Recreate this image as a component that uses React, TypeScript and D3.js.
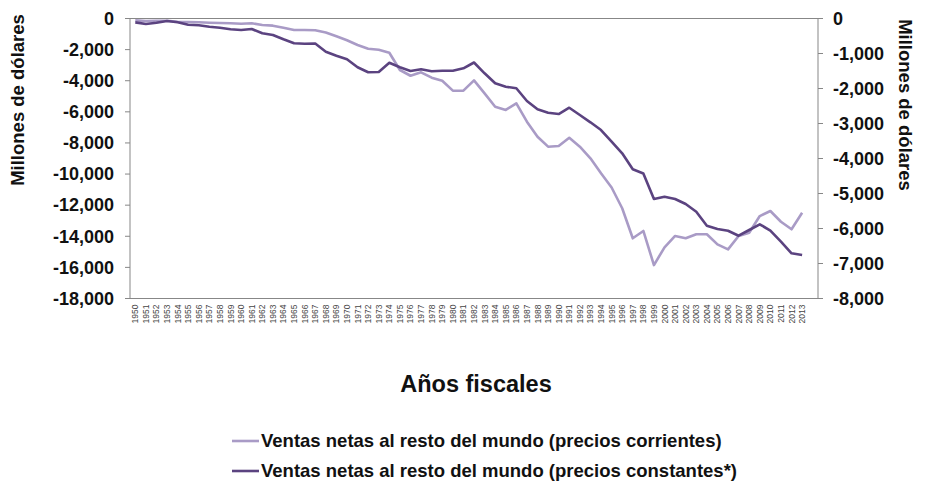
import React from "react";
import * as d3 from "d3";

const years: string[] = [];
for (let y = 1950; y <= 2013; y++) years.push(String(y));
const categories = [...years, ""];

// Ventas netas (precios corrientes) – eje izquierdo
const corrientes = [
  -120, -160, -140, -140, -205, -225, -245, -270, -290, -310,
  -335, -310, -420, -460, -590, -740, -740, -760, -900, -1145,
  -1400, -1700, -1940, -2005, -2200, -3310, -3680, -3460, -3805, -4000,
  -4640, -4640, -3975, -4810, -5670, -5880, -5450, -6635, -7600, -8240,
  -8200, -7665, -8240, -8990, -9950, -10865, -12200, -14130, -13660, -15850,
  -14710, -13980, -14130, -13870, -13870, -14520, -14840, -13980, -13770, -12700,
  -12375, -13065, -13550, -12485,
];

// Ventas netas (precios constantes*) – eje derecho
const constantes = [
  -110, -157, -120, -71, -109, -177, -194, -234, -263, -309,
  -329, -300, -423, -471, -594, -709, -720, -714, -949, -1063,
  -1166, -1394, -1537, -1529, -1263, -1394, -1500, -1451, -1509, -1491,
  -1491, -1423, -1257, -1566, -1851, -1949, -1994, -2357, -2594, -2691,
  -2729, -2549, -2757, -2966, -3186, -3520, -3851, -4309, -4429, -5157,
  -5091, -5157, -5300, -5520, -5920, -6014, -6063, -6206, -6043, -5880,
  -6063, -6377, -6709, -6757,
];

const leftTicks = [0, -2000, -4000, -6000, -8000, -10000, -12000, -14000, -16000, -18000];
const rightTicks = [0, -1000, -2000, -3000, -4000, -5000, -6000, -7000, -8000];

const legendLabels = [
  "Ventas netas al resto del mundo (precios corrientes)",
  "Ventas netas al resto del mundo (precios constantes*)",
];

const LIGHT = "#a99bc6";
const DARK = "#5b4380";
const AXIS = "#878787";
const FONT = "'Liberation Sans', Arial, sans-serif";

export default function App() {
  const W = 925, H = 487;
  const left = 130, right = 818, top = 18.5, bottom = 298.5;

  const x = d3.scaleBand<string>().domain(categories).range([left, right]).padding(0);
  const yL = d3.scaleLinear().domain([-18000, 0]).range([bottom, top]);
  const yR = d3.scaleLinear().domain([-8000, 0]).range([bottom, top]);
  const fmt = (v: number) => d3.format(",")(v).replace("\u2212", "-");
  const cx = (i: number) => (x(years[i]) as number) + x.bandwidth() / 2;

  const lineL = d3.line<number>().x((_, i) => cx(i)).y((d) => yL(d));
  const lineR = d3.line<number>().x((_, i) => cx(i)).y((d) => yR(d));

  return (
    <svg width={W} height={H} style={{ position: "absolute", left: 0, top: 0, background: "#fff" }} fontFamily={FONT}>
      {/* plot border */}
      <rect x={left} y={top} width={right - left} height={bottom - top} fill="none" stroke={AXIS} strokeWidth={1} />
      {/* left axis */}
      {leftTicks.map((t) => (
        <g key={"l" + t}>
          <line x1={left - 5} x2={left} y1={yL(t)} y2={yL(t)} stroke={AXIS} />
          <text x={114} y={yL(t)} dy="0.35em" textAnchor="end" fontSize={18} fontWeight="bold" fill="#111">
            {fmt(t)}
          </text>
        </g>
      ))}
      {/* right axis */}
      {rightTicks.map((t) => (
        <g key={"r" + t}>
          <line x1={right} x2={right + 5} y1={yR(t)} y2={yR(t)} stroke={AXIS} />
          <text x={833} y={yR(t)} dy="0.35em" textAnchor="start" fontSize={18} fontWeight="bold" fill="#111">
            {fmt(t)}
          </text>
        </g>
      ))}
      {/* x labels */}
      {years.map((yr, i) => (
        <text
          key={yr}
          transform={`translate(${cx(i) + 3},${bottom + 6}) rotate(-90)`}
          textAnchor="end"
          fontSize={8.5}
          fill="#444"
        >
          {yr}
        </text>
      ))}
      {/* axis titles */}
      <text transform="translate(24,100) rotate(-90)" textAnchor="middle" fontSize={18.5} fontWeight="bold" fill="#111">
        Millones de dólares
      </text>
      <text transform="translate(899,105) rotate(90)" textAnchor="middle" fontSize={18.5} fontWeight="bold" fill="#111">
        Millones de dólares
      </text>
      <text x={476} y={392} textAnchor="middle" fontSize={23.5} fontWeight="bold" fill="#111">
        Años fiscales
      </text>
      {/* lines */}
      <path d={lineL(corrientes) || ""} fill="none" stroke={LIGHT} strokeWidth={2.6} strokeLinejoin="round" />
      <path d={lineR(constantes) || ""} fill="none" stroke={DARK} strokeWidth={2.6} strokeLinejoin="round" />
      {/* legend */}
      {legendLabels.map((lab, i) => (
        <g key={lab} transform={`translate(0,${441 + i * 30})`}>
          <line x1={232} x2={259} y1={0} y2={0} stroke={i === 0 ? LIGHT : DARK} strokeWidth={2.6} />
          <text x={261} y={0} dy="0.35em" fontSize={18.5} fontWeight="bold" fill="#111">
            {lab}
          </text>
        </g>
      ))}
    </svg>
  );
}
